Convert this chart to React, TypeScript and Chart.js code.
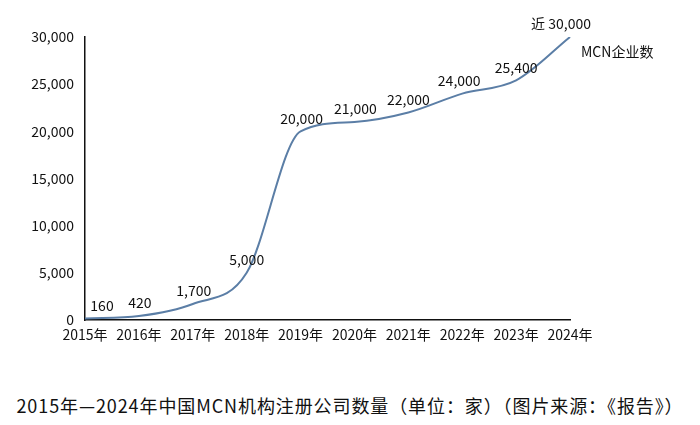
import React, { useEffect, useRef } from "react";
import { Chart, registerables } from "chart.js";

Chart.register(...registerables);

const years = ["2015年", "2016年", "2017年", "2018年", "2019年", "2020年", "2021年", "2022年", "2023年", "2024年"];
const counts = [160, 420, 1700, 5000, 20000, 21000, 22000, 24000, 25400, 30000];
const pointLabels = ["160", "420", "1,700", "5,000", "20,000", "21,000", "22,000", "24,000", "25,400", "近 30,000"];
const labelShiftX = [17, 1, 1, 0, 1, 1, 0, -3, 0, -9];
const seriesName = "MCN企业数";
const caption = "2015年—2024年中国MCN机构注册公司数量（单位：家）（图片来源：《报告》）";

const FONT = "'Noto Sans CJK SC', 'Noto Sans', sans-serif";

const labelPlugin = {
  id: "pointLabels",
  afterDatasetsDraw(chart: any) {
    const ctx = chart.ctx;
    const meta = chart.getDatasetMeta(0);
    ctx.save();
    ctx.font = `14px ${FONT}`;
    ctx.fillStyle = "#111";
    ctx.textAlign = "center";
    ctx.textBaseline = "middle";
    meta.data.forEach((pt: any, i: number) => {
      ctx.fillText(pointLabels[i], pt.x + labelShiftX[i], pt.y - 13);
    });
    ctx.textAlign = "left";
    ctx.fillText(seriesName, chart.chartArea.right + 11, 52);
    ctx.restore();
  },
};

export default function App() {
  const ref = useRef<HTMLCanvasElement>(null);
  useEffect(() => {
    const chart = new Chart(ref.current!, {
      type: "line",
      data: {
        labels: years,
        datasets: [
          {
            label: seriesName,
            data: counts,
            borderColor: "#5b7ea6",
            borderWidth: 2,
            pointRadius: 0,
            cubicInterpolationMode: "monotone",
            fill: false,
          },
        ],
      },
      options: {
        animation: false,
        responsive: false,
        maintainAspectRatio: false,
        layout: { padding: { top: 37, right: 130, left: 0, bottom: 0 } },
        plugins: { legend: { display: false }, tooltip: { enabled: false } },
        scales: {
          x: {
            offset: false,
            grid: { display: false, drawTicks: false },
            border: { display: true, color: "#111", width: 1.5 },
            ticks: { color: "#111", font: { size: 14, family: FONT }, padding: 6, maxRotation: 0, autoSkip: false },
            afterFit(scale: any) {
              scale.height = 60;
            },
          },
          y: {
            min: 0,
            max: 30000,
            grid: { display: false, drawTicks: true, tickLength: 5, tickColor: "#111", drawOnChartArea: false },
            border: { display: true, color: "#111", width: 1.5 },
            ticks: {
              stepSize: 5000,
              color: "#111",
              font: { size: 14, family: FONT },
              padding: 6,
              callback: (v: any) => Number(v).toLocaleString("en-US"),
            },
            afterFit(scale: any) {
              scale.width = 85;
            },
          },
        },
      },
      plugins: [labelPlugin],
    } as any);
    return () => chart.destroy();
  }, []);

  return (
    <div style={{ position: "absolute", left: 0, top: 0, width: 700, height: 425, background: "#fff" }}>
      <canvas ref={ref} width={700} height={380} style={{ display: "block", width: 700, height: 380 }} />
      <div
        style={{
          position: "absolute",
          left: 0,
          top: 393,
          width: 700,
          textAlign: "center",
          fontFamily: FONT,
          fontSize: 18,
          letterSpacing: "0.9px",
          lineHeight: "24px",
          color: "#111",
          whiteSpace: "nowrap",
        }}
      >
        {caption}
      </div>
    </div>
  );
}
